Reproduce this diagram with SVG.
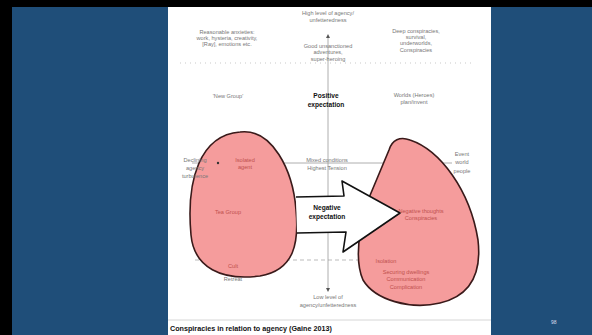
<svg xmlns="http://www.w3.org/2000/svg" width="592" height="335" viewBox="0 0 592 335">
<defs>
<style>
.t{font-family:"Liberation Sans",Arial,sans-serif;font-size:5.6px;fill:#777;text-anchor:middle}
.r{font-family:"Liberation Sans",Arial,sans-serif;font-size:5.6px;fill:#c0504d;text-anchor:middle}
.b{font-family:"Liberation Sans",Arial,sans-serif;font-size:6.6px;font-weight:bold;fill:#111;text-anchor:middle}
.blob{fill:#f59c9c;stroke:#3a1a1a;stroke-width:1.6}
.ax{stroke:#999;stroke-width:0.8;fill:none}
</style>
<marker id="ah" viewBox="0 0 6 6" refX="3" refY="3" markerWidth="5" markerHeight="5" orient="auto-start-reverse">
<path d="M0,0 L6,3 L0,6 Z" fill="#555"/>
</marker>
</defs>
<rect x="0" y="0" width="592" height="335" fill="#1f4e79"/>
<rect x="0" y="0" width="592" height="7" fill="#000"/>
<rect x="0" y="0" width="12" height="335" fill="#000"/>
<rect x="168" y="7" width="323" height="328" fill="#fff"/>
<line x1="168" y1="320" x2="491" y2="320" stroke="#ccc" stroke-width="0.8"/>
<text x="170" y="331" font-family="Liberation Sans,Arial,sans-serif" font-size="7.2" font-weight="bold" fill="#111">Conspiracies in relation to agency (Gaine 2013)</text>
<text x="551" y="324" font-family="Liberation Sans,Arial,sans-serif" font-size="5" fill="#dde">98</text>
<g id="grid">
<line x1="180" y1="63" x2="475" y2="63" stroke="#bbb" stroke-width="0.8" stroke-dasharray="1 4"/>
<line x1="192" y1="163" x2="452" y2="163" class="ax"/>
<line x1="195" y1="260" x2="468" y2="260" stroke="#aaa" stroke-width="0.8" stroke-dasharray="4 3"/>
<line x1="328" y1="36" x2="328" y2="290" class="ax" marker-start="url(#ah)" marker-end="url(#ah)"/>
</g>
<g id="top-labels">
<text class="t" x="328" y="15">High level of agency/</text>
<text class="t" x="328" y="22">unfetteredness</text>
<text class="t" x="227" y="34">Reasonable anxieties:</text>
<text class="t" x="227" y="40">work, hysteria, creativity,</text>
<text class="t" x="227" y="46">[Ray], emotions etc.</text>
<text class="t" x="328" y="48">Good unsanctioned</text>
<text class="t" x="328" y="54">adventures,</text>
<text class="t" x="328" y="61">super-heroing</text>
<text class="t" x="416" y="33">Deep conspiracies,</text>
<text class="t" x="416" y="39">survival,</text>
<text class="t" x="416" y="45">underworlds,</text>
<text class="t" x="416" y="52">Conspiracies</text>
<text class="t" x="228" y="98">'New Group'</text>
<text class="b" x="326" y="98">Positive</text>
<text class="b" x="326" y="107">expectation</text>
<text class="t" x="414" y="97">Worlds (Heroes)</text>
<text class="t" x="414" y="104">plan/invent</text>
</g>
<g id="left-blob">
<path class="blob" d="M240,132 C272,128 293,170 296,210 C299,242 295,270 260,276 C222,281 194,268 191,235 C186,180 200,135 240,132 Z"/>
<text class="t" x="195" y="162">Declining</text>
<text class="t" x="195" y="170">agency</text>
<text class="t" x="195" y="178">turbulence</text>
<circle cx="218" cy="163" r="1.2" fill="#333"/>
<text class="r" x="245" y="162">Isolated</text>
<text class="r" x="245" y="169">agent</text>
<text class="r" x="228" y="214">Tea Group</text>
<text class="r" x="233" y="268">Cult</text>
<text class="t" x="233" y="281">Retreat</text>
</g>
<g id="right-blob">
<path class="blob" d="M389,150 C392,140 400,136 410,140 C440,150 470,190 478,240 C482,275 470,296 440,303 C410,310 375,300 363,280 C355,262 358,235 366,205 L389,150 Z"/>
<text class="t" x="462" y="156">Event</text>
<text class="t" x="462" y="164">world</text>
<text class="t" x="462" y="173">people</text>
<text class="r" x="421" y="213">Negative thoughts</text>
<text class="r" x="421" y="220">Conspiracies</text>
<text class="r" x="386" y="263">Isolation</text>
<text class="r" x="406" y="274">Securing dwellings</text>
<text class="r" x="406" y="281">Communication</text>
<text class="r" x="406" y="289">Complication</text>
</g>
<g id="center-labels">
<text class="t" x="327" y="162">Mixed conditions</text>
<text class="t" x="327" y="170">Highest Tension</text>
<text class="t" x="328" y="299">Low level of</text>
<text class="t" x="328" y="307">agency/unfetteredness</text>
</g>
<g id="connectors">
<path d="M296,197 L344,196 L342,181 L400,213 L343,252 L346,232 L297,233" fill="#fff" stroke="#111" stroke-width="1.6" stroke-linejoin="round"/>
<text class="b" x="327" y="210">Negative</text>
<text class="b" x="327" y="219">expectation</text>
</g>
</svg>
